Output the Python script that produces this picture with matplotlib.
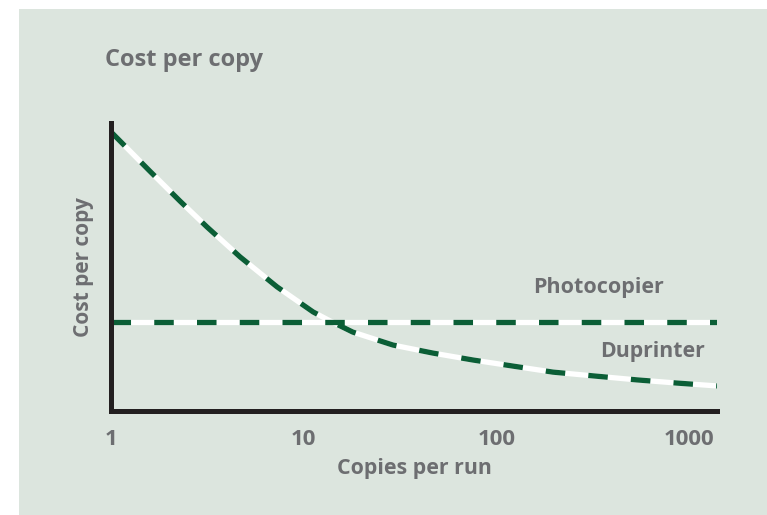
import numpy as np
import matplotlib
matplotlib.use("Agg")
from matplotlib import pyplot as plt
from matplotlib.patches import Rectangle

# Copies per run (log axis) and relative cost per copy
duprinter_copies = [1, 1.59, 2.28, 3.15, 4.68, 7.28, 11.2, 13.7, 18.0, 29.1, 47.0, 75.8,
                    122, 197, 318, 538, 868, 1400]
duprinter_cost = [0.969, 0.833, 0.729, 0.639, 0.535, 0.431, 0.344, 0.313, 0.274, 0.229,
                  0.201, 0.177, 0.156, 0.135, 0.122, 0.108, 0.097, 0.087]
photocopier_copies = [1, 1400]
photocopier_cost = [0.309, 0.309]
tick_values = [1, 10, 100, 1000]
tick_labels = ["1", "10", "100", "1000"]

GREEN = "#0b5e36"
GREY = "#6d6e71"
BLACK = "#231f20"
PANEL = "#dce5de"

plt.rcParams['font.family'] = ['Open Sans', 'DejaVu Sans']

fig = plt.figure(figsize=(7.67, 5.15), dpi=100)
fig.patch.set_facecolor("white")
fig.patches.append(Rectangle((19 / 767, 0), 1 - 19 / 767, 1 - 9 / 515,
                             transform=fig.transFigure, facecolor=PANEL,
                             edgecolor="none", zorder=-10))

ax = fig.add_axes([111 / 767, 1 - 411 / 515, 606 / 767, 288 / 515])
ax.set_facecolor("none")
ax.set_xscale("log")
ax.set_xlim(1, 1400)
ax.set_ylim(0, 1)


def dashed(x, y):
    ax.plot(x, y, color="white", lw=3.8, solid_capstyle="butt", solid_joinstyle="round", zorder=3)
    line, = ax.plot(x, y, color=GREEN, lw=3.8, dash_capstyle="butt", zorder=4)
    line.set_dashes((3.7, 4.4))


dashed(duprinter_copies, duprinter_cost)
dashed(photocopier_copies, photocopier_cost)

for side in ["top", "right"]:
    ax.spines[side].set_visible(False)
for side in ["left", "bottom"]:
    ax.spines[side].set_linewidth(3.6)
    ax.spines[side].set_color(BLACK)
    ax.spines[side].set_capstyle("projecting")
    ax.spines[side].set_zorder(5)

ax.set_yticks([])
ax.set_xticks(tick_values)
ax.set_xticklabels(tick_labels)
ax.xaxis.set_minor_locator(matplotlib.ticker.NullLocator())
ax.tick_params(axis="x", length=0, pad=13, labelsize=16, labelcolor=GREY)
for lab in ax.get_xticklabels():
    lab.set_fontweight("bold")

ax.set_xlabel("Copies per run", fontsize=15.4, fontweight="bold", color=GREY, labelpad=6)
ax.set_ylabel("Cost per copy", fontsize=15, fontweight="bold", color=GREY, labelpad=12)

fig.text(105 / 767, 1 - 60 / 515, "Cost per copy", fontsize=17, fontweight="bold",
         color=GREY, va="center", ha="left")
ax.text(0.913, 0.43, "Photocopier", transform=ax.transAxes, fontsize=15.5, fontweight="bold",
        color=GREY, ha="right", va="center")
ax.text(0.98, 0.206, "Duprinter", transform=ax.transAxes, fontsize=15.3, fontweight="bold",
        color=GREY, ha="right", va="center")

fig.savefig("out.png", dpi=100)
